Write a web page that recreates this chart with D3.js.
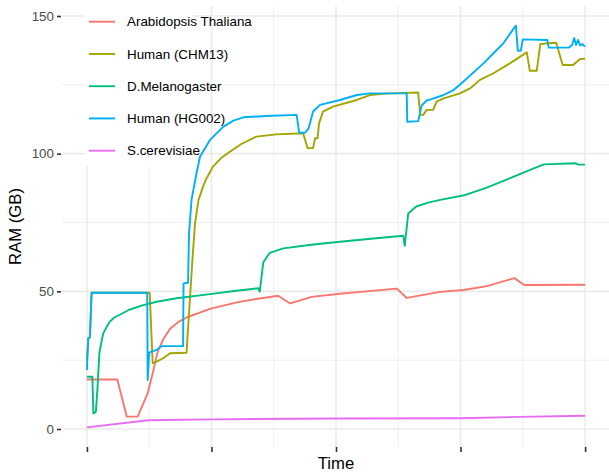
<!DOCTYPE html>
<html>
<head>
<meta charset="utf-8">
<script src="https://cdn.jsdelivr.net/npm/d3@7"></script>
<style>
  body { margin: 0; background: #fff; }
  svg { display: block; font-family: "Liberation Sans", Arial, sans-serif; }
</style>
</head>
<body>
<svg id="chart"></svg>
<script>
const width = 609;
const height = 472;
const panel = { left: 62, right: 610, top: 6, bottom: 447 };

// series names and colours (ggplot hue palette)
const seriesNames = ["Arabidopsis Thaliana", "Human (CHM13)", "D.Melanogaster", "Human (HG002)", "S.cerevisiae"];
const seriesColors = ["#F8766D", "#A3A500", "#00BF7D", "#00B0F6", "#E76BF3"];

// ticks
const yTicks = [0, 50, 100, 150];
const yMinor = [25, 75, 125];
const xTicks = [0, 25, 50, 75, 100];
const xMinor = [12.5, 37.5, 62.5, 87.5];

// [time, RAM GB] (time in % of run)
const arabidopsis = [
  [0, 18], [6.1, 18], [8, 4.5], [10.2, 4.5], [12.2, 13], [13.3, 21], [14.2, 28],
  [15.3, 32.5], [16.7, 36.4], [18.3, 38.8], [20, 40.5], [24.7, 43.6], [30.1, 46],
  [34, 47.2], [38.4, 48.4], [40.8, 45.6], [45.1, 48], [50.8, 49.1], [56, 50],
  [62.2, 51], [64.2, 47.6], [70.9, 49.8], [75.6, 50.5], [80.3, 51.9], [85.8, 54.8],
  [87.8, 52.3], [100, 52.4]
];
const chm13 = [
  [0, 25], [0.3, 33], [0.6, 33.3], [0.95, 49.5], [12.6, 49.5], [13.2, 23.9], [14, 24.5],
  [15.3, 25.7], [16.7, 27.5], [20, 27.7], [20.7, 48], [21.2, 62], [21.7, 74.7],
  [22.4, 83.2], [23.4, 88.5], [24, 91], [25.3, 95.3], [27, 98.5], [28.7, 100.7],
  [31, 103.5], [34, 106.2], [38, 107], [43.4, 107.4], [44.3, 102], [45.4, 102],
  [45.8, 105.6], [46.3, 105.6], [46.6, 111], [47.4, 115.3], [49.4, 117.1],
  [54.2, 119.5], [56.8, 121.3], [60, 121.8], [66.5, 122.2], [66.9, 114.1],
  [67.5, 114.1], [68.2, 115.9], [69.5, 115.9], [70.2, 118.9], [71.6, 120.1],
  [74.9, 121.9], [76.9, 123.7], [78.9, 126.8], [81.6, 129.2], [84.9, 132.8],
  [88.3, 136.8], [88.9, 130.1], [90.3, 130.1], [91, 139.8], [92.7, 140.1],
  [94.2, 140.3], [95.5, 132.2], [97.6, 132.2], [98.9, 134.3], [100, 134.5]
];
const melanogaster = [
  [0, 19], [1.1, 19], [1.3, 5.6], [1.8, 6.3], [2.1, 14.2], [2.5, 27.5], [3, 32.5],
  [3.3, 34.8], [4, 37.2], [4.6, 39], [5.5, 40.5], [6.6, 41.5], [8.5, 43.3],
  [11.3, 45], [14, 46.2], [18, 47.5], [24.7, 49], [30, 50.2], [34.4, 51.1],
  [34.7, 49.9], [35.4, 60.5], [36.7, 64], [39.4, 65.6], [45, 66.9], [50.8, 68],
  [57, 69.1], [63.5, 70.2], [63.8, 66.5], [64.5, 78.3], [66.1, 80.8], [68.5, 82.2],
  [70.9, 83.2], [76, 85], [80, 87.5], [84, 90.4], [88, 93.4], [91.7, 96.1],
  [98.1, 96.5], [98.7, 96], [100, 96]
];
const hg002 = [
  [0, 21.4], [0.26, 32.9], [0.6, 33.3], [0.94, 49.5], [12.1, 49.5], [12.2, 17.8],
  [12.5, 27.7], [14, 28.7], [15, 30.1], [19.3, 30.1], [19.4, 52.9], [20.3, 53.1],
  [20.5, 71], [21, 83.2], [22, 92.9], [22.7, 98.9], [24.7, 105], [27.4, 109.8],
  [29.4, 112], [31.4, 113.2], [36, 113.7], [42.1, 114.1], [42.6, 107.6],
  [43.8, 107.6], [44.5, 109.2], [45.4, 115.3], [46.8, 117.7], [50.8, 119.5],
  [54.2, 121.3], [56.8, 121.9], [64.2, 121.9], [64.3, 111.6], [66.5, 111.8],
  [67.2, 117.5], [68.2, 119.3], [69, 119.7], [71.6, 121.3], [73.6, 123.1],
  [75.6, 126.2], [79.6, 132.8], [83.6, 140.1], [86.1, 146.5], [86.5, 137.4],
  [87.1, 137.4], [87.5, 141.5], [92.4, 141.3], [92.7, 138.5], [96.7, 138.5],
  [97.4, 139.5], [97.8, 142], [98.2, 139.5], [98.6, 141.3], [99, 139.3],
  [99.5, 139.8], [99.8, 139.1], [100, 139.1]
];
const cerevisiae = [
  [0, 0.6], [12.3, 3.2], [25, 3.5], [50, 3.8], [75, 3.9], [87, 4.4], [100, 4.8]
];

const seriesData = [arabidopsis, chm13, melanogaster, hg002, cerevisiae];

const x = d3.scaleLinear().domain([-5, 105]).range([panel.left, panel.right]);
const y = d3.scaleLinear().domain([-6.54, 153.63]).range([panel.bottom, panel.top]);

const svg = d3.select("#chart")
  .attr("width", width)
  .attr("height", height)
  .attr("viewBox", [0, 0, width, height]);

//! grid
const grid = svg.append("g");
grid.selectAll(".ymin").data(yMinor).join("line")
  .attr("x1", panel.left).attr("x2", panel.right)
  .attr("y1", (d) => y(d)).attr("y2", (d) => y(d))
  .attr("stroke", "#EBEBEB").attr("stroke-width", 0.8);
grid.selectAll(".xmin").data(xMinor).join("line")
  .attr("y1", panel.top).attr("y2", panel.bottom)
  .attr("x1", (d) => x(d)).attr("x2", (d) => x(d))
  .attr("stroke", "#EBEBEB").attr("stroke-width", 0.8);
grid.selectAll(".ymaj").data(yTicks).join("line")
  .attr("x1", panel.left).attr("x2", panel.right)
  .attr("y1", (d) => y(d)).attr("y2", (d) => y(d))
  .attr("stroke", "#EBEBEB").attr("stroke-width", 1.6);
grid.selectAll(".xmaj").data(xTicks).join("line")
  .attr("y1", panel.top).attr("y2", panel.bottom)
  .attr("x1", (d) => x(d)).attr("x2", (d) => x(d))
  .attr("stroke", "#EBEBEB").attr("stroke-width", 1.6);

//! legend background sits on the grid, under the lines
svg.append("rect")
  .attr("x", 85).attr("y", 4)
  .attr("width", 107).attr("height", 162)
  .attr("fill", "#fff");

//! lines
const line = d3.line().x((d) => x(d[0])).y((d) => y(d[1]));
svg.append("g")
  .selectAll("path")
  .data(seriesData)
  .join("path")
  .attr("d", line)
  .attr("fill", "none")
  .attr("stroke", (d, i) => seriesColors[i])
  .attr("stroke-width", 1.9)
  .attr("stroke-linejoin", "round");

//! axes
const yAxis = svg.append("g")
  .attr("transform", `translate(61, 0)`)
  .call(d3.axisLeft(y).tickValues(yTicks).tickSize(4).tickPadding(3));
yAxis.select(".domain").remove();
yAxis.selectAll("line").attr("stroke", "#333333").attr("stroke-width", 1.6);
yAxis.selectAll("text")
  .attr("fill", "#4D4D4D")
  .attr("font-size", "13.4px")
  .attr("font-family", "Liberation Sans, Arial, sans-serif");

const xAxis = svg.append("g")
  .attr("transform", `translate(0, ${panel.bottom})`)
  .call(d3.axisBottom(x).tickValues(xTicks).tickSize(5).tickFormat(""));
xAxis.select(".domain").remove();
xAxis.selectAll("line").attr("stroke", "#333333").attr("stroke-width", 1.6);

svg.append("text")
  .attr("x", (panel.left + panel.right) / 2)
  .attr("y", 469)
  .attr("text-anchor", "middle")
  .attr("font-size", "16.7px")
  .attr("fill", "#000")
  .text("Time");

svg.append("text")
  .attr("transform", `translate(21, ${(panel.top + panel.bottom) / 2}) rotate(-90)`)
  .attr("text-anchor", "middle")
  .attr("font-size", "16.7px")
  .attr("fill", "#000")
  .text("RAM (GB)");

//! legend keys and labels
const rows = svg.append("g")
  .selectAll("g")
  .data(seriesNames)
  .join("g")
  .attr("transform", (d, i) => `translate(0, ${21.7 + i * 32.25})`);
rows.append("line")
  .attr("x1", 89).attr("x2", 115)
  .attr("stroke", (d, i) => seriesColors[i])
  .attr("stroke-width", 1.9);
rows.append("text")
  .attr("x", 127)
  .attr("dy", "0.35em")
  .attr("font-size", "13.4px")
  .attr("fill", "#000")
  .text((d) => d);
</script>
</body>
</html>
